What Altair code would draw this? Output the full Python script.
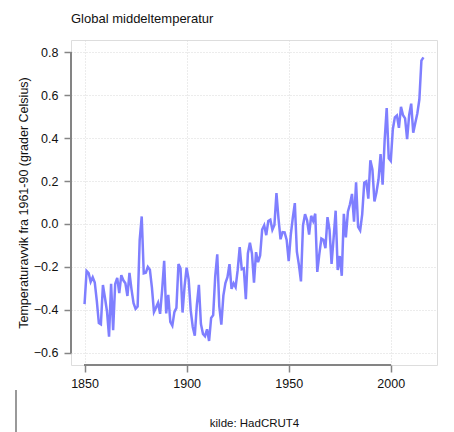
import altair as alt
import pandas as pd

years = list(range(1850, 2017))
anomaly = [
    -0.373, -0.218, -0.228, -0.269, -0.248, -0.272, -0.358, -0.461, -0.467, -0.284,
    -0.343, -0.407, -0.524, -0.278, -0.494, -0.279, -0.251, -0.321, -0.238, -0.262,
    -0.276, -0.335, -0.227, -0.304, -0.368, -0.395, -0.384, -0.075, 0.035, -0.230,
    -0.227, -0.200, -0.213, -0.296, -0.409, -0.389, -0.367, -0.418, -0.307, -0.171,
    -0.416, -0.330, -0.455, -0.473, -0.410, -0.390, -0.186, -0.206, -0.412, -0.289,
    -0.203, -0.259, -0.402, -0.479, -0.520, -0.377, -0.283, -0.465, -0.511, -0.522,
    -0.490, -0.544, -0.437, -0.424, -0.244, -0.141, -0.383, -0.468, -0.333, -0.275,
    -0.247, -0.187, -0.302, -0.276, -0.294, -0.215, -0.108, -0.210, -0.206, -0.350,
    -0.137, -0.087, -0.137, -0.273, -0.131, -0.178, -0.147, -0.026, -0.006, -0.052,
    0.014, 0.020, -0.027, -0.004, 0.144, 0.025, -0.071, -0.038, -0.039, -0.074,
    -0.173, -0.052, 0.028, 0.097, -0.129, -0.190, -0.267, -0.007, 0.046, 0.017,
    -0.049, 0.038, 0.014, 0.048, -0.223, -0.140, -0.068, -0.074, -0.113, 0.032,
    -0.027, -0.186, -0.065, 0.062, -0.214, -0.149, -0.241, 0.047, -0.062, 0.057,
    0.092, 0.140, 0.011, 0.194, -0.014, -0.030, 0.045, 0.192, 0.198, 0.118,
    0.296, 0.254, 0.105, 0.148, 0.208, 0.325, 0.183, 0.390, 0.539, 0.306,
    0.294, 0.441, 0.496, 0.505, 0.447, 0.545, 0.506, 0.491, 0.395, 0.506,
    0.560, 0.425, 0.470, 0.514, 0.579, 0.760, 0.775,
]
x_ticks = [1850, 1900, 1950, 2000]
y_ticks = [-0.6, -0.4, -0.2, 0.0, 0.2, 0.4, 0.6, 0.8]

df = pd.DataFrame({"year": years, "anomaly": anomaly})

FONT = "Liberation Sans"
AXIS_GRAY = "#858585"

xscale = alt.Scale(domain=[1843.36, 2022.64], nice=False, zero=False)
yscale = alt.Scale(domain=[-0.656, 0.856], nice=False, zero=False)

x_axis = alt.Axis(
    values=x_ticks, format="d", domain=False, grid=True,
    gridColor="#d9d9d9", gridDash=[1, 2], gridWidth=1,
    tickColor=AXIS_GRAY, tickSize=7, tickWidth=1.5,
    labelFont=FONT, labelFontSize=12.5, labelColor="#111", labelPadding=5,
    title="kilde: HadCRUT4", titleFont=FONT, titleFontSize=11.5,
    titleFontWeight="normal", titleColor="#111", titlePadding=28,
)
y_axis = alt.Axis(
    values=y_ticks, format=".1f", domain=False, grid=True,
    gridColor="#d9d9d9", gridDash=[1, 2], gridWidth=1,
    tickColor=AXIS_GRAY, tickSize=7, tickWidth=1.5,
    labelFont=FONT, labelFontSize=12.5, labelColor="#111", labelPadding=6,
    title="Temperaturavvik fra 1961-90 (grader Celsius)", titleFont=FONT,
    titleFontSize=12.5, titleFontWeight="normal", titleColor="#111", titlePadding=3,
)

line = alt.Chart(df).mark_line(color="#7f7fff", strokeWidth=2.5).encode(
    x=alt.X("year:Q", scale=xscale, axis=x_axis),
    y=alt.Y("anomaly:Q", scale=yscale, axis=y_axis),
)

y_line = alt.Chart(df).mark_rule(color=AXIS_GRAY, strokeWidth=1.5).encode(
    x=alt.value(0), y=alt.datum(-0.6), y2=alt.datum(0.8)
)
x_line = alt.Chart(df).mark_rule(color=AXIS_GRAY, strokeWidth=1.5).encode(
    y=alt.value(325), x=alt.datum(1850), x2=alt.datum(2000)
)
stray = alt.Chart(df).mark_rule(color="#999999", strokeWidth=1).encode(
    x=alt.value(-55), y=alt.value(350), y2=alt.value(395)
)

chart = alt.layer(line, y_line, x_line, stray).properties(
    width=366, height=325,
    title=alt.TitleParams(
        "Global middeltemperatur", anchor="start", frame="group", font=FONT,
        fontSize=13, fontWeight="normal", color="#111", offset=14,
    ),
    autosize=alt.AutoSizeParams(type="none"),
    padding={"left": 63, "top": 32, "right": 9, "bottom": 75},
).configure_view(stroke=None).configure(background="white")

chart.save("out.html", embed_options={"renderer": "svg", "actions": False})
